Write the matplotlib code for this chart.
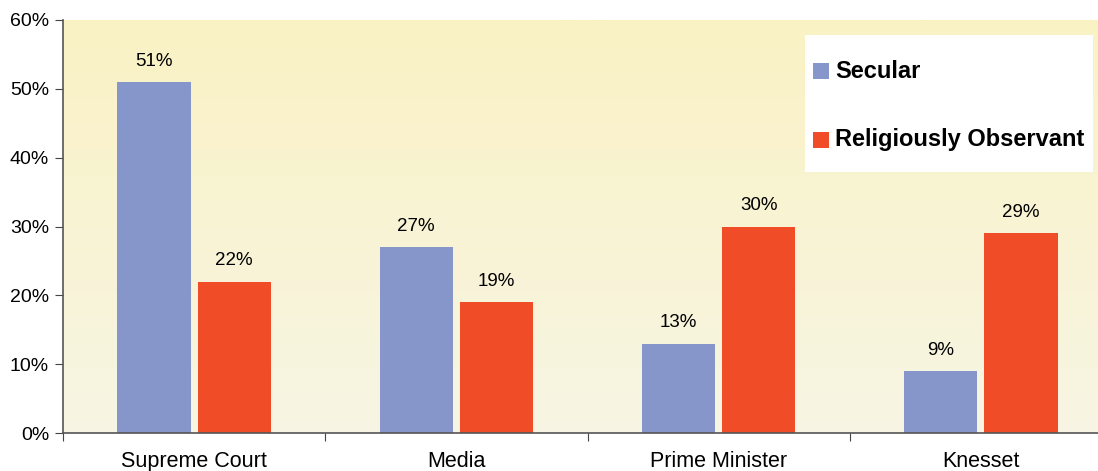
import numpy as np
import matplotlib.pyplot as plt
from matplotlib.colors import LinearSegmentedColormap
from matplotlib.patches import Rectangle

plt.rcParams['font.family'] = ['Liberation Sans', 'DejaVu Sans']

categories = ["Supreme Court", "Media", "Prime Minister", "Knesset"]
secular = [51, 27, 13, 9]
observant = [22, 19, 30, 29]
series_names = ["Secular", "Religiously Observant"]
yticks = [0, 10, 20, 30, 40, 50, 60]

blue = "#8696cb"
red = "#f04c27"

W, H = 1098, 471
fig = plt.figure(figsize=(W / 100, H / 100), dpi=100)
# plot area runs a little past the right edge of the figure
ax = fig.add_axes([63 / W, 1 - 433 / H, (1112 - 63) / W, (433 - 20) / H])

x = np.arange(len(categories))
bw = 0.279
off = 0.153

# soft yellow-to-cream background
bg = LinearSegmentedColormap.from_list("bg", ["#f7f5e4", "#faf2c4"])
ax.imshow(np.linspace(0, 1, 256).reshape(-1, 1), cmap=bg, aspect="auto",
          origin="lower", extent=[-0.5, len(categories) - 0.5, 0, 60], zorder=0)

b1 = ax.bar(x - off, secular, bw, color=blue, zorder=2)
b2 = ax.bar(x + off, observant, bw, color=red, zorder=2)

for bars, vals in ((b1, secular), (b2, observant)):
    for rect, v in zip(bars, vals):
        ax.text(rect.get_x() + rect.get_width() / 2, v + 1.8, f"{v}%",
                ha="center", va="bottom", fontsize=13.5, color="#000000")

ax.set_xlim(-0.5, len(categories) - 0.5)
ax.set_ylim(0, 60)
ax.set_yticks(yticks)
ax.set_yticklabels([f"{t}%" for t in yticks], fontsize=14)
ax.set_xticks(np.arange(len(categories) + 1) - 0.5)
ax.set_xticklabels([])
ax.set_xticks(x, minor=True)
ax.set_xticklabels(categories, minor=True, fontsize=15.5)
ax.tick_params(axis="x", which="minor", length=0, pad=13)
ax.tick_params(axis="x", which="major", length=6, color="#444444", direction="out")
ax.tick_params(axis="y", length=6, color="#444444", pad=4)

for s in ("top", "right"):
    ax.spines[s].set_visible(False)
for s in ("left", "bottom"):
    ax.spines[s].set_color("#555555")
    ax.spines[s].set_linewidth(1.2)

# legend: white box with square swatches, laid out in pixels
def fx(px):
    return px / W

def fy(py):
    return 1 - py / H

fig.patches.append(Rectangle((fx(805), fy(172)), fx(1093) - fx(805), fy(35) - fy(172),
                             transform=fig.transFigure, facecolor="white",
                             edgecolor="none", zorder=5))
for name, col, cy in zip(series_names, (blue, red), (71, 140)):
    fig.patches.append(Rectangle((fx(813), fy(cy + 8)), 16 / W, 16 / H,
                                 transform=fig.transFigure, facecolor=col,
                                 edgecolor="none", zorder=6))
    fig.text(fx(835), fy(cy), name, ha="left", va="center", fontsize=17,
             fontweight="bold", color="#000000", zorder=7)

fig.savefig("out.png", dpi=100)
